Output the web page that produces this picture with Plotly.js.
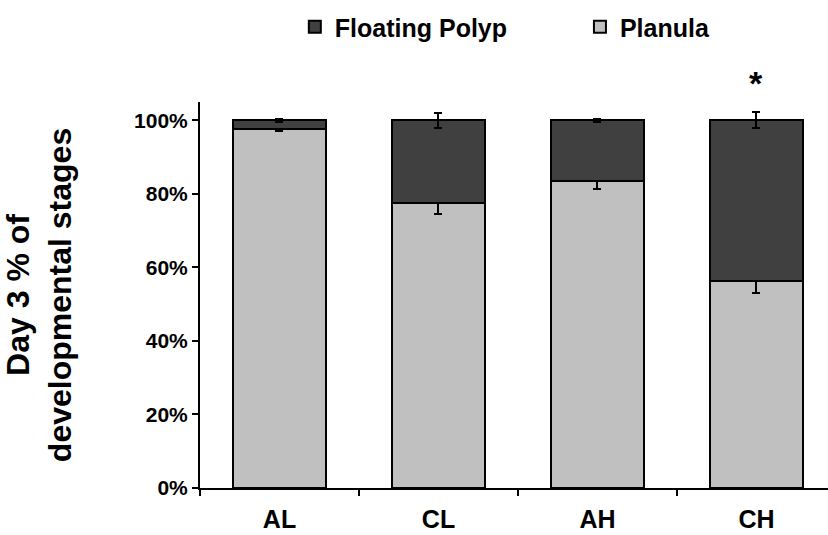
<!DOCTYPE html>
<html>
<head>
<meta charset="utf-8">
<script src="https://cdn.plot.ly/plotly-3.0.1.min.js"></script>
<style>html,body{margin:0;padding:0;background:#fff}</style>
</head>
<body>
<div id="chart" style="width:828px;height:535px"></div>
<script>
const categories = ["AL", "CL", "AH", "CH"];
const planula = [0.976, 0.774, 0.834, 0.563];
const planulaErr = [0.006, 0.030, 0.022, 0.033];
const floatingPolyp = [0.024, 0.226, 0.166, 0.437];
const floatingErr = [0.005, 0.020, 0.005, 0.022];
const yTickVals = [0, 0.2, 0.4, 0.6, 0.8, 1.0];
const yTickText = ["0%", "20%", "40%", "60%", "80%", "100%"];
const significance = [{category: "CH", label: "*"}];

const FONT = "Arial, 'Liberation Sans', sans-serif";

const traces = [
  {
    type: "bar", name: "Planula", x: categories, y: planula,
    width: 0.585, legend: "legend2",
    marker: {color: "#c0c0c0", line: {color: "#000", width: 2}},
    error_y: {type: "data", array: planulaErr, visible: true, color: "#000", thickness: 2, width: 4}
  },
  {
    type: "bar", name: "Floating Polyp", x: categories, y: floatingPolyp,
    width: 0.585, legend: "legend",
    marker: {color: "#404040", line: {color: "#000", width: 2}},
    error_y: {type: "data", array: floatingErr, visible: true, color: "#000", thickness: 2, width: 4}
  }
];

const legendFont = {family: FONT, size: 25, weight: "bold", color: "#000"};

const layout = {
  width: 828, height: 535,
  margin: {l: 200, r: 0, t: 102, b: 47},
  barmode: "stack",
  paper_bgcolor: "#fff", plot_bgcolor: "#fff",
  font: {family: FONT, color: "#000", weight: "bold"},
  showlegend: true,
  legend: {
    orientation: "h", x: 0.151, xanchor: "left", y: 1.194, yanchor: "middle",
    font: legendFont, bgcolor: "rgba(0,0,0,0)"
  },
  legend2: {
    orientation: "h", x: 0.605, xanchor: "left", y: 1.194, yanchor: "middle",
    font: legendFont, bgcolor: "rgba(0,0,0,0)"
  },
  xaxis: {
    type: "category", range: [-0.5, 3.45],
    showline: true, linecolor: "#000", linewidth: 2,
    ticks: "outside", tickson: "boundaries", ticklen: 6, tickwidth: 2, tickcolor: "#000",
    tickfont: {family: FONT, size: 25, weight: "bold", color: "#000"},
    ticklabelstandoff: 8,
    showgrid: false, zeroline: false, fixedrange: true
  },
  yaxis: {
    range: [0, 1.05],
    tickvals: yTickVals, ticktext: yTickText,
    showline: true, linecolor: "#000", linewidth: 2,
    ticks: "outside", ticklen: 6, tickwidth: 2, tickcolor: "#000",
    tickfont: {family: FONT, size: 21, weight: "bold", color: "#000"},
    showgrid: false, zeroline: false, fixedrange: true,
    title: {text: "Day 3 % of<br>developmental stages", font: {family: FONT, size: 32, weight: "bold", color: "#000"}, standoff: 53}
  },
  annotations: significance.map(s => ({
    x: s.category, y: 1.05, xref: "x", yref: "paper", text: s.label, showarrow: false,
    font: {family: FONT, size: 34, weight: "bold", color: "#000"}, yanchor: "middle"
  }))
};

Plotly.newPlot("chart", traces, layout, {displayModeBar: false, staticPlot: true});
</script>
</body>
</html>
